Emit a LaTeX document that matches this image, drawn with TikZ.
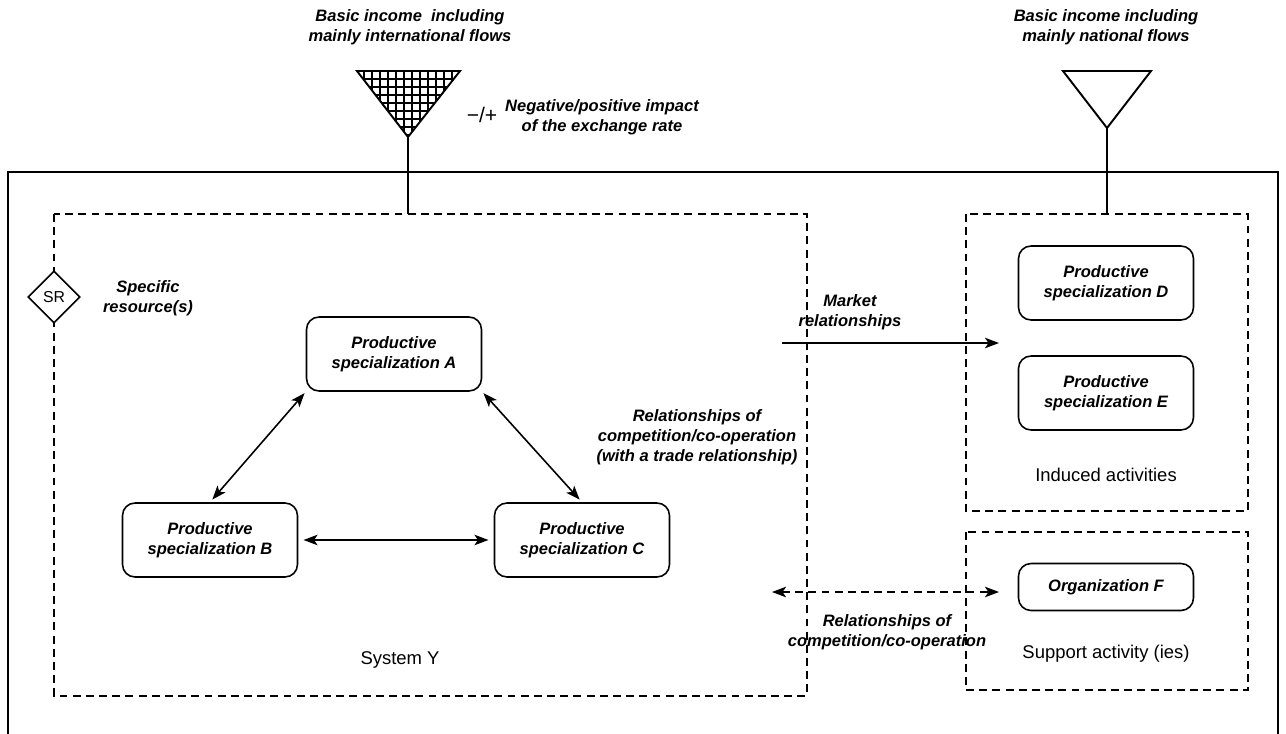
\documentclass[tikz,border=0pt]{standalone}
\usepackage{fontspec}
\setmainfont{Liberation Sans}
\usetikzlibrary{shapes.geometric}
\usetikzlibrary{arrows.meta}

\begin{document}
\begin{tikzpicture}[x=0.02cm, y=-0.02cm,
  spec/.style={draw, line width=0.9pt, rounded corners=0.25cm, minimum width=3.5cm, minimum height=1.48cm, align=center, font=\fontsize{9.4}{11.4}\selectfont\bfseries\itshape},
  lbl/.style={align=center, font=\fontsize{9.4}{11.4}\selectfont\bfseries\itshape},
  txt/.style={font=\fontsize{10.5}{12}\selectfont},
  zone/.style={line width=0.9pt, dash pattern=on 4.5pt off 3pt},
  rel/.style={line width=0.9pt, {Stealth[length=8pt,width=6pt,inset=2pt]}-{Stealth[length=8pt,width=6pt,inset=2pt]}}]
  \useasboundingbox (0,0) rectangle (1286,734);
  % outer system and zones
  \draw[line width=1.1pt] (8,172) rectangle (1278,750);
  \draw[zone] (54,214) rectangle (807,696);
  \draw[zone] (966,214) rectangle (1248,511);
  \draw[zone] (966,532) rectangle (1248,690);
  % basic income funnels
  \coordinate (tl) at (408,137);
  \coordinate (tr) at (1107,128);
  \begin{scope}
  \clip (357,71) -- (460,71) -- (tl) -- cycle;
  \foreach \x in {356,364,...,464}{
  \draw[line width=1pt] (\x,65) -- (\x,140);
  }
  \foreach \y in {71,79,...,140}{
  \draw[line width=1pt] (350,\y) -- (465,\y);
  }
  \end{scope}
  \draw[line width=1.1pt] (357,71) -- (460,71) -- (tl) -- cycle;
  \draw[line width=1.1pt] (1063,71) -- (1151,71) -- (tr) -- cycle;
  \coordinate (sl) at (408,214);
  \coordinate (sr2) at (1107,214);
  \draw[line width=1.1pt] (tl) -- (sl);
  \draw[line width=1.1pt] (tr) -- (sr2);
  \node[lbl] (inl) at (410,27) {Basic income\ \ including\\mainly international flows};
  \node[lbl] (nat) at (1106,27) {Basic income including\\mainly national flows};
  \node[font=\fontsize{12}{14}\selectfont] (sign) at (482,115) {−/+};
  \node[lbl] (imp) at (602,117) {Negative/positive impact\\of the exchange rate};
  % specific resource
  \node[draw, diamond, fill=white, line width=0.9pt, minimum width=1.04cm, minimum height=1.04cm, inner sep=0pt, font=\fontsize{9}{10}\selectfont] (sr) at (54,297) {SR};
  \node[lbl] (srl) at (148,298) {Specific\\resource(s)};
  % productive specializations
  \node[spec] (A) at (394,354) {Productive\\specialization A};
  \node[spec] (B) at (210,540) {Productive\\specialization B};
  \node[spec] (C) at (582,540) {Productive\\specialization C};
  \node[spec] (D) at (1106,283) {Productive\\specialization D};
  \node[spec] (E) at (1106,393) {Productive\\specialization E};
  \node[spec, minimum height=0.94cm] (F) at (1106,587) {Organization F};
  \draw[rel, shorten <=1pt, shorten >=2pt] (A.south west) -- (B.north);
  \draw[rel, shorten <=1pt, shorten >=2pt] (A.south east) -- (C.north);
  \draw[rel, shorten <=3pt, shorten >=3pt] (B.east) -- (C.west);
  \node[lbl] (trade) at (697,437) {Relationships of\\competition/co-operation\\(with a trade relationship)};
  % relationships with the other zones
  \coordinate (m1) at (782,343);
  \coordinate (m2) at (999,343);
  \draw[line width=0.9pt, -{Stealth[length=8pt,width=6pt,inset=2pt]}] (m1) -- (m2);
  \node[lbl] (mkt) at (850,312) {Market\\relationships};
  \coordinate (c1) at (772,592);
  \coordinate (c2) at (999,592);
  \draw[rel, dash pattern=on 4.5pt off 3pt] (c1) -- (c2);
  \node[lbl] (coop) at (887,632) {Relationships of\\competition/co-operation};
  % zone names
  \node[txt] (sysy) at (400,660) {System Y};
  \node[txt] (ind) at (1106,475) {Induced activities};
  \node[txt] (sup) at (1106,654) {Support activity (ies)};
\end{tikzpicture}
\end{document}
